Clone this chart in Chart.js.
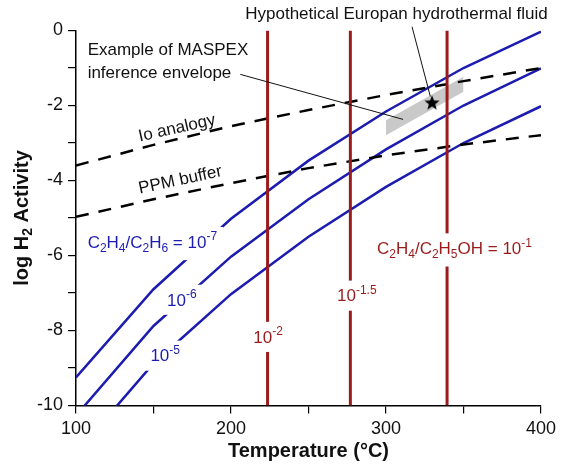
<!DOCTYPE html>
<html lang="en">
<head>
    <meta charset="UTF-8">
    <title>log H2 Activity vs Temperature</title>
    <script src="https://cdn.jsdelivr.net/npm/chart.js"></script>
    <style>
        body { margin: 0; background: #fff; }
        #wrap { width: 562px; height: 465px; }
    </style>
</head>
<body>
    <div id="wrap"><canvas id="myChart" width="562" height="465"></canvas></div>

    <script>
        // temperaturas (°C) donde se leyeron las curvas
        const temps = [100, 150, 200, 250, 300, 350, 400];

        // curvas C2H4/C2H6 (log actividad H2)
        const ratio1e7 = [-9.25, -6.9, -5.02, -3.47, -2.16, -1.0, -0.03];
        const ratio1e6 = [-10.27, -7.88, -6.03, -4.5, -3.17, -2.0, -1.01];
        const ratio1e5 = [-11.27, -8.88, -7.03, -5.5, -4.17, -3.0, -2.02];

        // buffers
        const ioAnalogy = [-3.6, -3.05, -2.55, -2.12, -1.72, -1.35, -1.0];
        const ppmBuffer = [-4.97, -4.5, -4.07, -3.67, -3.33, -3.04, -2.79];

        // lineas C2H4/C2H5OH (temperatura de cada una)
        const ethanolTemps = [223.6, 277, 339.4];

        // envolvente MASPEX
        const envelopeTemps = [300, 350];
        const envelopeUpper = [-2.39, -1.23];
        const envelopeLower = [-2.79, -1.63];

        // fluido hidrotermal hipotetico
        const fluidT = [329.7];
        const fluidH2 = [-1.94];

        // lineas guia de las notas
        const fluidLeaderT = [316.8, 328.6];
        const fluidLeaderH2 = [0.1, -1.76];
        const envLeaderT = [206, 311];
        const envLeaderH2 = [-1.17, -2.37];

        // etiquetas de ejes
        const xTickLabels = [100, 200, 300, 400];
        const yTickLabels = [0, -2, -4, -6, -8, -10];

        const BLUE = '#1c1cb0';
        const RED = '#9a1b1b';
        const FONT = '"Liberation Sans", Arial, sans-serif';

        const pts = (xs, ys) => xs.map((x, i) => ({ x: x, y: ys[i] }));

        // estrella rellena para el punto
        function makeStar(r) {
            const c = document.createElement('canvas');
            c.width = c.height = 2 * r + 2;
            const g = c.getContext('2d');
            g.beginPath();
            for (let i = 0; i < 10; i++) {
                const rad = i % 2 ? r * 0.42 : r;
                const a = -Math.PI / 2 + i * Math.PI / 5;
                g.lineTo(r + 1 + rad * Math.cos(a), r + 1 + rad * Math.sin(a));
            }
            g.closePath();
            g.fillStyle = '#000';
            g.fill();
            return c;
        }

        // notas de texto (sub = subindice, sup = superindice)
        const notes = [
            { parts: [['C'], ['2', 'sub'], ['H'], ['4', 'sub'], ['/C'], ['2', 'sub'], ['H'], ['6', 'sub'], [' = 10'], ['-7', 'sup']], t: 107.5, h2: -5.67, color: BLUE, gap: true },
            { parts: [['10'], ['-6', 'sup']], t: 158.7, h2: -7.21, color: BLUE, gap: true },
            { parts: [['10'], ['-5', 'sup']], t: 148, h2: -8.7, color: BLUE, gap: true },
            { parts: [['10'], ['-2', 'sup']], t: 214.4, h2: -8.2, color: RED, gap: true },
            { parts: [['10'], ['-1.5', 'sup']], t: 268.4, h2: -7.1, color: RED, gap: true },
            { parts: [['C'], ['2', 'sub'], ['H'], ['4', 'sub'], ['/C'], ['2', 'sub'], ['H'], ['5', 'sub'], ['OH = 10'], ['-1', 'sup']], t: 294.2, h2: -5.84, color: RED, gap: true },
            { parts: [['Hypothetical Europan hydrothermal fluid']], t: 209.2, h2: 0.43, color: '#111' },
            { parts: [['Example of MASPEX']], t: 107.5, h2: -0.52, color: '#111' },
            { parts: [['inference envelope']], t: 107.5, h2: -1.13, color: '#111' },
            { parts: [['Io analogy']], t: 165.2, h2: -2.61, color: '#111', angle: -12.5, center: true },
            { parts: [['PPM buffer']], t: 167.3, h2: -3.99, color: '#111', angle: -12, center: true }
        ];

        function fontFor(kind, size, weight) {
            const s = kind ? Math.round(size * 0.7) : size;
            return (weight || '') + ' ' + s + 'px ' + FONT;
        }
        function richWidth(ctx, parts, size, weight) {
            let w = 0;
            for (const [t, k] of parts) { ctx.font = fontFor(k, size, weight); w += ctx.measureText(t).width; }
            return w;
        }
        function drawRich(ctx, parts, x, y, size, color, weight) {
            ctx.fillStyle = color;
            ctx.textBaseline = 'middle';
            ctx.textAlign = 'left';
            let cx = x;
            for (const [t, k] of parts) {
                ctx.font = fontFor(k, size, weight);
                const dy = k === 'sub' ? size * 0.3 : k === 'sup' ? -size * 0.35 : 0;
                ctx.fillText(t, cx, y + dy);
                cx += ctx.measureText(t).width;
            }
        }

        const notesPlugin = {
            id: 'notes',
            afterDatasetsDraw(chart) {
                const { ctx, chartArea, scales: { x, y } } = chart;
                const size = 17;
                ctx.save();
                notes.forEach(n => {
                    const px = x.getPixelForValue(n.t);
                    const py = y.getPixelForValue(n.h2);
                    const w = richWidth(ctx, n.parts, size);
                    if (n.gap) {
                        const hasSub = n.parts.some(p => p[1] === 'sub');
                        ctx.fillStyle = '#fff';
                        const top = py - size * 0.95;
                        const bot = py + (hasSub ? size : size * 0.82);
                        ctx.fillRect(px - 6, top, w + 12, bot - top);
                    }
                    if (n.angle) {
                        ctx.save();
                        ctx.translate(px, py);
                        ctx.rotate(n.angle * Math.PI / 180);
                        drawRich(ctx, n.parts, -w / 2, 0, size, n.color);
                        ctx.restore();
                    } else {
                        drawRich(ctx, n.parts, px, py, size, n.color);
                    }
                });

                // titulos de ejes
                const tsize = 20;
                const xt = [['Temperature (°C)']];
                const xw = richWidth(ctx, xt, tsize, 'bold');
                drawRich(ctx, xt, (chartArea.left + chartArea.right) / 2 - xw / 2, chartArea.bottom + 46, tsize, '#111', 'bold');

                const yt = [['log H'], ['2', 'sub'], [' Activity']];
                const yw = richWidth(ctx, yt, tsize, 'bold');
                ctx.save();
                ctx.translate(22, (chartArea.top + chartArea.bottom) / 2);
                ctx.rotate(-Math.PI / 2);
                drawRich(ctx, yt, -yw / 2, 0, tsize, '#111', 'bold');
                ctx.restore();
                ctx.restore();
            }
        };

        const lineBase = { showLine: true, pointRadius: 0, fill: false };

        const datasets = [
            Object.assign({}, lineBase, { data: pts(envelopeTemps, envelopeUpper), borderWidth: 0, borderColor: 'rgba(0,0,0,0)', backgroundColor: '#c9c9c9', fill: '+1', order: 10 }),
            Object.assign({}, lineBase, { data: pts(envelopeTemps, envelopeLower), borderWidth: 0, borderColor: 'rgba(0,0,0,0)', order: 11 }),
            Object.assign({}, lineBase, { data: pts(temps, ratio1e7), borderColor: BLUE, borderWidth: 2.5, order: 6 }),
            Object.assign({}, lineBase, { data: pts(temps, ratio1e6), borderColor: BLUE, borderWidth: 2.5, order: 6 }),
            Object.assign({}, lineBase, { data: pts(temps, ratio1e5), borderColor: BLUE, borderWidth: 2.5, order: 6 }),
            Object.assign({}, lineBase, { data: pts(temps, ioAnalogy), borderColor: '#000', borderWidth: 2.5, borderDash: [13, 10], order: 5 }),
            Object.assign({}, lineBase, { data: pts(temps, ppmBuffer), borderColor: '#000', borderWidth: 2.5, borderDash: [13, 10], order: 5 })
        ];
        ethanolTemps.forEach(t => {
            datasets.push(Object.assign({}, lineBase, { data: [{ x: t, y: 0 }, { x: t, y: -10 }], borderColor: RED, borderWidth: 3, order: 4 }));
        });
        datasets.push(Object.assign({}, lineBase, { data: pts(fluidLeaderT, fluidLeaderH2), borderColor: '#111', borderWidth: 1, clip: false, order: 3 }));
        datasets.push(Object.assign({}, lineBase, { data: pts(envLeaderT, envLeaderH2), borderColor: '#111', borderWidth: 1, order: 3 }));
        datasets.push({ data: pts(fluidT, fluidH2), showLine: false, pointStyle: makeStar(8), pointRadius: 8, order: 1 });

        const ctx = document.getElementById('myChart').getContext('2d');
        const myChart = new Chart(ctx, {
            type: 'scatter',
            data: { datasets: datasets },
            options: {
                responsive: false,
                animation: false,
                layout: { padding: { left: 0, right: 21, top: 30.5, bottom: 0 } },
                plugins: { legend: { display: false }, tooltip: { enabled: false } },
                scales: {
                    x: {
                        type: 'linear', min: 100, max: 400,
                        afterFit: s => { s.height = 59.5; },
                        ticks: {
                            stepSize: 50, padding: 5, color: '#111',
                            font: { size: 18, family: FONT },
                            callback: v => xTickLabels.includes(v) ? String(v) : ''
                        },
                        grid: { drawOnChartArea: false, drawTicks: true, tickLength: 8, color: '#000', lineWidth: 1.2 },
                        border: { display: true, color: '#000', width: 1.5 }
                    },
                    y: {
                        type: 'linear', min: -10, max: 0,
                        afterFit: s => { s.width = 76; },
                        ticks: {
                            stepSize: 1, padding: 5, color: '#111',
                            font: { size: 18, family: FONT },
                            callback: v => yTickLabels.includes(v) ? String(v) : ''
                        },
                        grid: { drawOnChartArea: false, drawTicks: true, tickLength: 8, color: '#000', lineWidth: 1.2 },
                        border: { display: true, color: '#000', width: 1.5 }
                    }
                }
            },
            plugins: [notesPlugin]
        });
    </script>
</body>
</html>
